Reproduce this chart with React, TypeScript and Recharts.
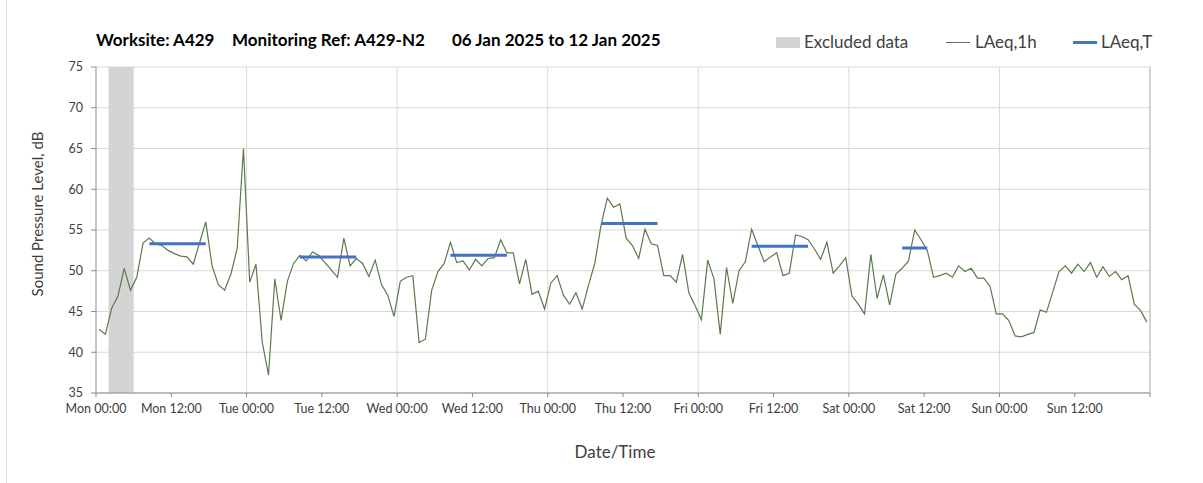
import React from "react";
import {
  ComposedChart,
  Line,
  XAxis,
  YAxis,
  CartesianGrid,
  ReferenceArea,
  ReferenceLine,
} from "recharts";

// hourly LAeq values, Mon 00:00 .. Sun 23:00 (plotted at mid-hour)
const hourlyLevels = [
  42.8, 42.2, 45.4, 46.9, 50.3, 47.6, 49.2, 53.4, 54.0, 53.3, 53.1, 52.5,
  52.1, 51.8, 51.7, 50.8, 53.4, 56.0, 50.6, 48.3, 47.6, 49.6, 52.7, 65.0,
  48.6, 50.8, 41.2, 37.2, 49.0, 43.9, 48.7, 50.9, 51.9, 51.2, 52.3, 51.9,
  51.0, 50.1, 49.2, 54.0, 50.6, 51.5, 50.9, 49.3, 51.3, 48.3, 47.0, 44.4,
  48.7, 49.2, 49.4, 41.2, 41.6, 47.6, 49.9, 50.9, 53.5, 51.0, 51.2, 50.1,
  51.4, 50.6, 51.5, 51.6, 53.8, 52.2, 52.2, 48.4, 51.4, 47.1, 47.5, 45.3,
  48.5, 49.4, 47.0, 45.9, 47.3, 45.3, 48.2, 50.9, 55.6, 58.9, 57.8, 58.2,
  54.0, 53.1, 51.5, 55.1, 53.3, 53.1, 49.4, 49.4, 48.6, 52.0, 47.3, 45.7,
  44.0, 51.3, 49.0, 42.2, 50.4, 46.0, 50.0, 51.1, 55.1, 53.1, 51.1, 51.7,
  52.2, 49.4, 49.7, 54.4, 54.2, 53.8, 52.7, 51.4, 53.5, 49.7, 50.6, 51.6,
  46.9, 45.9, 44.7, 52.0, 46.6, 49.5, 45.8, 49.6, 50.3, 51.2, 55.0, 53.8,
  52.5, 49.2, 49.4, 49.7, 49.2, 50.6, 49.9, 50.3, 49.1, 49.1, 48.1, 44.7,
  44.7, 43.9, 42.0, 41.9, 42.2, 42.4, 45.2, 44.9, 47.4, 49.9, 50.6, 49.7,
  50.8, 49.9, 51.0, 49.2, 50.5, 49.3, 49.9, 48.9, 49.4, 45.9, 45.1, 43.7,
];

// LAeq,T periods (first and last hour index) and levels
const periodStart = [8, 32, 56, 80, 104, 128];
const periodEnd = [17, 41, 65, 89, 113, 132];
const periodLevel = [53.3, 51.7, 51.9, 55.8, 53.0, 52.8];

const excludedFrom = 2;
const excludedTo = 6;

const dayNames = ["Mon", "Tue", "Wed", "Thu", "Fri", "Sat", "Sun"];
const xTicks = [0, 12, 24, 36, 48, 60, 72, 84, 96, 108, 120, 132, 144, 156, 168];
const dayLines = [24, 48, 72, 96, 120, 144];
const yTicks = [35, 40, 45, 50, 55, 60, 65, 70, 75];

const data = hourlyLevels.map((v, h) => {
  let t: number | null = null;
  for (let i = 0; i < periodStart.length; i++) {
    if (h >= periodStart[i] && h <= periodEnd[i]) t = periodLevel[i];
  }
  return { t: h + 0.5, laeq1h: v, laeqT: t };
});

function fmtTick(t: number) {
  if (t >= 168) return "";
  const d = dayNames[Math.floor(t / 24)];
  return d + " " + (t % 24 === 0 ? "00:00" : "12:00");
}

const FONT = "Lato, 'Open Sans', sans-serif";
const TXT = "#404040";

const titleStyle: React.CSSProperties = {
  position: "absolute",
  top: 29,
  fontSize: 17,
  fontWeight: 700,
  color: "#000",
  whiteSpace: "nowrap",
};

const legendText: React.CSSProperties = {
  position: "absolute",
  top: 31,
  fontSize: 17,
  color: TXT,
  whiteSpace: "nowrap",
};

export default function App() {
  return (
    <div
      style={{
        position: "absolute",
        left: 0,
        top: 0,
        width: 1203,
        height: 483,
        background: "#fff",
        fontFamily: FONT,
        overflow: "hidden",
      }}
    >
      <div style={{ position: "absolute", left: 6, top: 0, width: 1, height: 483, background: "#d9d9d9" }} />

      {/* title */}
      <div style={{ ...titleStyle, left: 96 }}>Worksite: A429</div>
      <div style={{ ...titleStyle, left: 232 }}>Monitoring Ref: A429-N2</div>
      <div style={{ ...titleStyle, left: 452 }}>06 Jan 2025 to 12 Jan 2025</div>

      {/* legend */}
      <div style={{ position: "absolute", left: 776, top: 37, width: 24, height: 11, background: "#d4d4d4" }} />
      <div style={{ ...legendText, left: 804 }}>Excluded data</div>
      <div style={{ position: "absolute", left: 946, top: 42, width: 24, height: 1, background: "#5b7a4c" }} />
      <div style={{ ...legendText, left: 975 }}>LAeq,1h</div>
      <div style={{ position: "absolute", left: 1073, top: 41, width: 24, height: 3, background: "#4472c4" }} />
      <div style={{ ...legendText, left: 1101 }}>LAeq,T</div>

      <ComposedChart
        width={1203}
        height={483}
        data={data}
        margin={{ top: 67, right: 53, bottom: 60, left: 0 }}
        style={{ position: "absolute", left: 0, top: 0 }}
      >
        <CartesianGrid stroke="#d9d9d9" verticalValues={dayLines} />
        <ReferenceArea
          x1={excludedFrom}
          x2={excludedTo}
          y1={35}
          y2={75}
          fill="#d4d4d4"
          fillOpacity={1}
          stroke="none"
        />
        <ReferenceLine x={168} stroke="#a6a6a6" />
        <XAxis
          dataKey="t"
          type="number"
          domain={[0, 168]}
          ticks={xTicks}
          tickFormatter={fmtTick}
          interval={0}
          height={30}
          tickSize={4}
          tickMargin={7}
          axisLine={{ stroke: "#8c8c8c" }}
          tickLine={{ stroke: "#8c8c8c" }}
          tick={{ fill: TXT, fontSize: 12.5, fontFamily: FONT }}
        />
        <YAxis
          domain={[35, 75]}
          ticks={yTicks}
          interval={0}
          width={96}
          tickSize={5}
          tickMargin={8}
          axisLine={{ stroke: "#8c8c8c" }}
          tickLine={{ stroke: "#8c8c8c" }}
          tick={{ fill: TXT, fontSize: 12.5, fontFamily: FONT }}
        />
        <Line
          type="linear"
          dataKey="laeq1h"
          stroke="#5b7a4c"
          strokeWidth={1.2}
          dot={false}
          activeDot={false}
          isAnimationActive={false}
        />
        <Line
          type="linear"
          dataKey="laeqT"
          stroke="#4472c4"
          strokeWidth={3}
          dot={false}
          activeDot={false}
          connectNulls={false}
          isAnimationActive={false}
        />
      </ComposedChart>

      {/* axis titles */}
      <div
        style={{
          position: "absolute",
          left: 37,
          top: 214,
          transform: "translate(-50%, -50%) rotate(-90deg)",
          fontSize: 15,
          color: TXT,
          whiteSpace: "nowrap",
        }}
      >
        Sound Pressure Level, dB
      </div>
      <div
        style={{
          position: "absolute",
          left: 615,
          top: 451,
          transform: "translate(-50%, -50%)",
          fontSize: 17,
          color: TXT,
          whiteSpace: "nowrap",
        }}
      >
        Date/Time
      </div>
    </div>
  );
}
